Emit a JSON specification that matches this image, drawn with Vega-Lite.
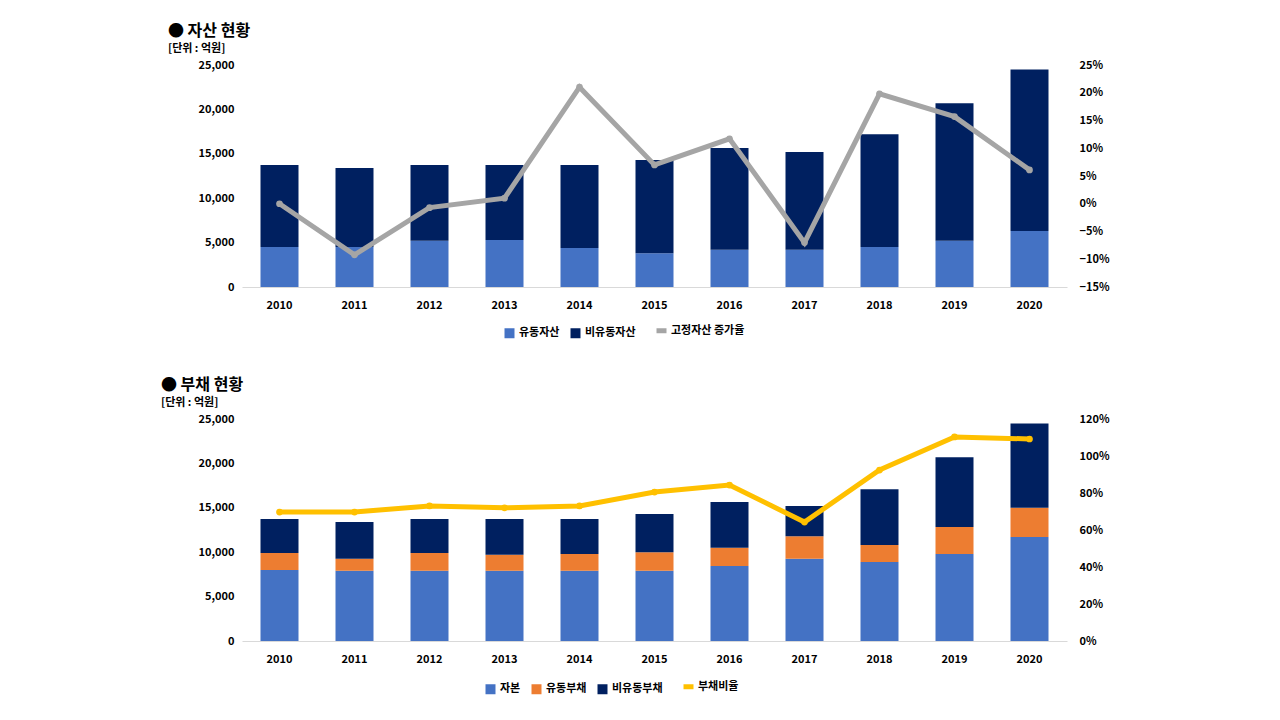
{
  "$schema": "https://vega.github.io/schema/vega-lite/v6.json",
  "background": "white",
  "padding": {"left": 160, "top": 23, "right": 20, "bottom": 5},
  "spacing": 36,
  "resolve": {"scale": {"color": "independent"}},
  "config": {
    "font": "Noto Sans CJK KR",
    "view": {"stroke": null},
    "axis": {"labelFontWeight": "bold", "labelFontSize": 11, "labelColor": "#000", "grid": false, "ticks": false, "title": null},
    "legend": {"orient": "none", "direction": "horizontal", "labelFontSize": 11, "labelFontWeight": "bold", "labelColor": "#000", "title": null, "columnPadding": 10},
    "title": {"anchor": "start", "fontSize": 16, "fontWeight": "bold", "subtitleFontSize": 11, "subtitleFontWeight": "bold", "subtitleColor": "#000", "subtitlePadding": 4, "dx": -30, "offset": 5}
  },
  "datasets": {
    "assets": [
      {"year": "2010", "series": "유동자산", "o": 1, "value": 4500},
      {"year": "2011", "series": "유동자산", "o": 1, "value": 4500},
      {"year": "2012", "series": "유동자산", "o": 1, "value": 5200},
      {"year": "2013", "series": "유동자산", "o": 1, "value": 5300},
      {"year": "2014", "series": "유동자산", "o": 1, "value": 4400},
      {"year": "2015", "series": "유동자산", "o": 1, "value": 3800},
      {"year": "2016", "series": "유동자산", "o": 1, "value": 4200},
      {"year": "2017", "series": "유동자산", "o": 1, "value": 4200},
      {"year": "2018", "series": "유동자산", "o": 1, "value": 4500},
      {"year": "2019", "series": "유동자산", "o": 1, "value": 5200},
      {"year": "2020", "series": "유동자산", "o": 1, "value": 6300},
      {"year": "2010", "series": "비유동자산", "o": 2, "value": 9240},
      {"year": "2011", "series": "비유동자산", "o": 2, "value": 8900},
      {"year": "2012", "series": "비유동자산", "o": 2, "value": 8540},
      {"year": "2013", "series": "비유동자산", "o": 2, "value": 8440},
      {"year": "2014", "series": "비유동자산", "o": 2, "value": 9340},
      {"year": "2015", "series": "비유동자산", "o": 2, "value": 10500},
      {"year": "2016", "series": "비유동자산", "o": 2, "value": 11450},
      {"year": "2017", "series": "비유동자산", "o": 2, "value": 11000},
      {"year": "2018", "series": "비유동자산", "o": 2, "value": 12700},
      {"year": "2019", "series": "비유동자산", "o": 2, "value": 15500},
      {"year": "2020", "series": "비유동자산", "o": 2, "value": 18200}
    ],
    "assetRate": [
      {"year": "2010", "series": "고정자산 증가율", "rate": 0.0},
      {"year": "2011", "series": "고정자산 증가율", "rate": -0.092},
      {"year": "2012", "series": "고정자산 증가율", "rate": -0.007},
      {"year": "2013", "series": "고정자산 증가율", "rate": 0.010},
      {"year": "2014", "series": "고정자산 증가율", "rate": 0.210},
      {"year": "2015", "series": "고정자산 증가율", "rate": 0.070},
      {"year": "2016", "series": "고정자산 증가율", "rate": 0.117},
      {"year": "2017", "series": "고정자산 증가율", "rate": -0.070},
      {"year": "2018", "series": "고정자산 증가율", "rate": 0.198},
      {"year": "2019", "series": "고정자산 증가율", "rate": 0.157},
      {"year": "2020", "series": "고정자산 증가율", "rate": 0.061}
    ],
    "debts": [
      {"year": "2010", "series": "자본", "o": 1, "value": 8000},
      {"year": "2011", "series": "자본", "o": 1, "value": 7900},
      {"year": "2012", "series": "자본", "o": 1, "value": 7900},
      {"year": "2013", "series": "자본", "o": 1, "value": 7900},
      {"year": "2014", "series": "자본", "o": 1, "value": 7900},
      {"year": "2015", "series": "자본", "o": 1, "value": 7900},
      {"year": "2016", "series": "자본", "o": 1, "value": 8450},
      {"year": "2017", "series": "자본", "o": 1, "value": 9250},
      {"year": "2018", "series": "자본", "o": 1, "value": 8900},
      {"year": "2019", "series": "자본", "o": 1, "value": 9800},
      {"year": "2020", "series": "자본", "o": 1, "value": 11700},
      {"year": "2010", "series": "유동부채", "o": 2, "value": 1900},
      {"year": "2011", "series": "유동부채", "o": 2, "value": 1350},
      {"year": "2012", "series": "유동부채", "o": 2, "value": 2000},
      {"year": "2013", "series": "유동부채", "o": 2, "value": 1800},
      {"year": "2014", "series": "유동부채", "o": 2, "value": 1900},
      {"year": "2015", "series": "유동부채", "o": 2, "value": 2100},
      {"year": "2016", "series": "유동부채", "o": 2, "value": 2050},
      {"year": "2017", "series": "유동부채", "o": 2, "value": 2550},
      {"year": "2018", "series": "유동부채", "o": 2, "value": 1900},
      {"year": "2019", "series": "유동부채", "o": 2, "value": 3050},
      {"year": "2020", "series": "유동부채", "o": 2, "value": 3300},
      {"year": "2010", "series": "비유동부채", "o": 3, "value": 3840},
      {"year": "2011", "series": "비유동부채", "o": 3, "value": 4150},
      {"year": "2012", "series": "비유동부채", "o": 3, "value": 3840},
      {"year": "2013", "series": "비유동부채", "o": 3, "value": 4040},
      {"year": "2014", "series": "비유동부채", "o": 3, "value": 3940},
      {"year": "2015", "series": "비유동부채", "o": 3, "value": 4300},
      {"year": "2016", "series": "비유동부채", "o": 3, "value": 5150},
      {"year": "2017", "series": "비유동부채", "o": 3, "value": 3400},
      {"year": "2018", "series": "비유동부채", "o": 3, "value": 6300},
      {"year": "2019", "series": "비유동부채", "o": 3, "value": 7850},
      {"year": "2020", "series": "비유동부채", "o": 3, "value": 9500}
    ],
    "debtRate": [
      {"year": "2010", "series": "부채비율", "rate": 0.697},
      {"year": "2011", "series": "부채비율", "rate": 0.697},
      {"year": "2012", "series": "부채비율", "rate": 0.730},
      {"year": "2013", "series": "부채비율", "rate": 0.720},
      {"year": "2014", "series": "부채비율", "rate": 0.730},
      {"year": "2015", "series": "부채비율", "rate": 0.805},
      {"year": "2016", "series": "부채비율", "rate": 0.843},
      {"year": "2017", "series": "부채비율", "rate": 0.643},
      {"year": "2018", "series": "부채비율", "rate": 0.924},
      {"year": "2019", "series": "부채비율", "rate": 1.103},
      {"year": "2020", "series": "부채비율", "rate": 1.092}
    ]
  },
  "vconcat": [
    {
      "title": {"text": "●  자산 현황", "subtitle": "[단위 : 억원]"},
      "width": 825,
      "height": 222,
      "resolve": {"scale": {"y": "independent"}},
      "layer": [
        {
          "data": {"name": "assets"},
          "mark": {"type": "bar", "width": 38},
          "encoding": {
            "x": {"field": "year", "type": "ordinal", "axis": {"labelAngle": 0, "domainColor": "#d9d9d9", "labelPadding": 12}},
            "y": {"field": "value", "type": "quantitative", "stack": "zero", "scale": {"domain": [0, 25000]}, "axis": {"format": ",.0f", "values": [0, 5000, 10000, 15000, 20000, 25000], "domain": false, "labelPadding": 8}},
            "order": {"field": "o"},
            "color": {"field": "series", "type": "nominal", "scale": {"domain": ["유동자산", "비유동자산", "고정자산 증가율"], "range": ["#4472C4", "#002060", "#A5A5A5"]},
              "legend": {"legendX": 262, "legendY": 260, "symbolType": "square", "encode": {"symbols": {"update": {"shape": {"signal": "datum.value == '고정자산 증가율' ? 'stroke' : 'square'"}, "strokeWidth": {"signal": "datum.value == '고정자산 증가율' ? 5 : 0"}}}}}}
          }
        },
        {
          "data": {"name": "assetRate"},
          "mark": {"type": "line", "strokeWidth": 5, "point": {"size": 45}},
          "encoding": {
            "x": {"field": "year", "type": "ordinal"},
            "y": {"field": "rate", "type": "quantitative", "scale": {"domain": [-0.15, 0.25]}, "axis": {"orient": "right", "format": ".0%", "values": [-0.15, -0.1, -0.05, 0, 0.05, 0.1, 0.15, 0.2, 0.25], "domain": false, "labelPadding": 12}},
            "color": {"field": "series", "type": "nominal"}
          }
        }
      ]
    },
    {
      "title": {"text": "●  부채 현황", "subtitle": "[단위 : 억원]", "dx": -37},
      "width": 825,
      "height": 222,
      "resolve": {"scale": {"y": "independent"}},
      "layer": [
        {
          "data": {"name": "debts"},
          "mark": {"type": "bar", "width": 38},
          "encoding": {
            "x": {"field": "year", "type": "ordinal", "axis": {"labelAngle": 0, "domainColor": "#d9d9d9", "labelPadding": 12}},
            "y": {"field": "value", "type": "quantitative", "stack": "zero", "scale": {"domain": [0, 25000]}, "axis": {"format": ",.0f", "values": [0, 5000, 10000, 15000, 20000, 25000], "domain": false, "labelPadding": 8}},
            "order": {"field": "o"},
            "color": {"field": "series", "type": "nominal", "scale": {"domain": ["자본", "유동부채", "비유동부채", "부채비율"], "range": ["#4472C4", "#ED7D31", "#002060", "#FFC000"]},
              "legend": {"legendX": 243, "legendY": 262, "symbolType": "square", "encode": {"symbols": {"update": {"shape": {"signal": "datum.value == '부채비율' ? 'stroke' : 'square'"}, "strokeWidth": {"signal": "datum.value == '부채비율' ? 5 : 0"}}}}}}
          }
        },
        {
          "data": {"name": "debtRate"},
          "mark": {"type": "line", "strokeWidth": 5, "point": {"size": 45}},
          "encoding": {
            "x": {"field": "year", "type": "ordinal"},
            "y": {"field": "rate", "type": "quantitative", "scale": {"domain": [0, 1.2]}, "axis": {"orient": "right", "format": ".0%", "values": [0, 0.2, 0.4, 0.6, 0.8, 1.0, 1.2], "domain": false, "labelPadding": 12}},
            "color": {"field": "series", "type": "nominal"}
          }
        }
      ]
    }
  ]
}
